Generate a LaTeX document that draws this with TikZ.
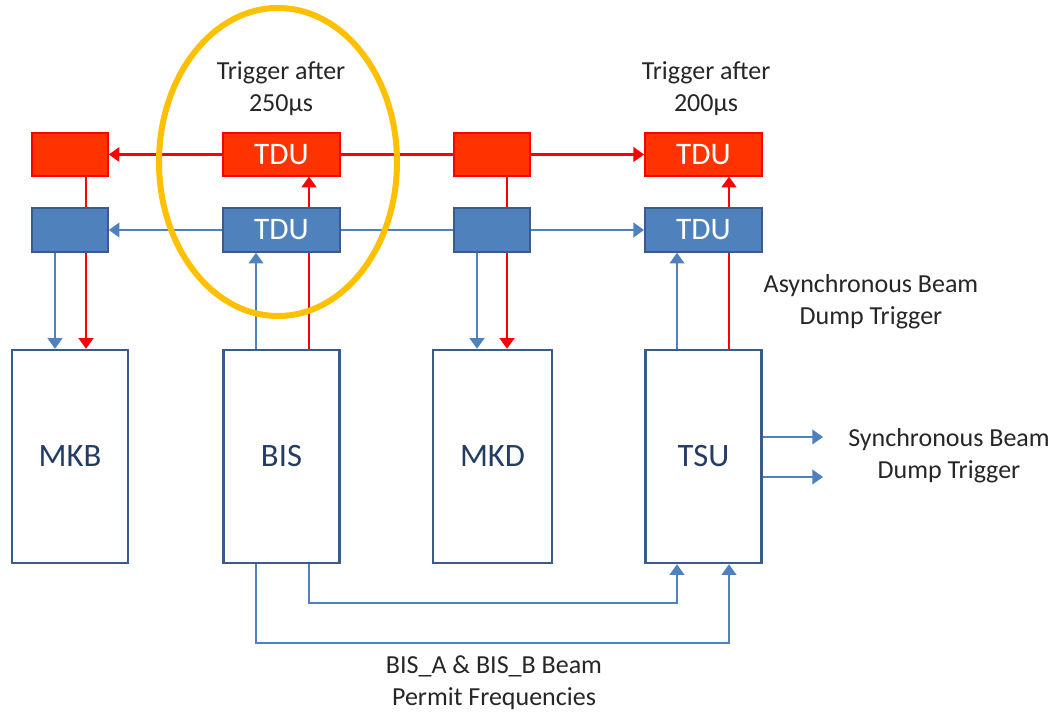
\documentclass[tikz,border=0pt]{standalone}
\usepackage{fontspec}
\setmainfont{Carlito}
\usetikzlibrary{arrows.meta,calc}
\definecolor{tdured}{RGB}{255,51,0}
\definecolor{linered}{RGB}{255,0,0}
\definecolor{tdublue}{RGB}{79,129,189}
\definecolor{edgeblue}{RGB}{56,93,138}
\definecolor{textblue}{RGB}{35,60,100}
\definecolor{ringgold}{RGB}{255,192,0}

\tikzset{
  redbox/.style={draw=linered,fill=tdured,line width=1.2pt,minimum height=32pt,text=white,font=\fontsize{23.5}{25}\selectfont},
  bluebox/.style={draw=edgeblue,fill=tdublue,line width=1.2pt,minimum height=33pt,text=white,font=\fontsize{23.5}{25}\selectfont},
  unitbox/.style={draw=edgeblue,line width=1.6pt,minimum width=87pt,minimum height=160pt,text=textblue,font=\fontsize{24.5}{26}\selectfont},
  redarr/.style={draw=linered,line width=1.6pt,-{Triangle[length=8pt,width=11pt]}},
  bluearr/.style={draw=tdublue,line width=1.6pt,-{Triangle[length=8pt,width=11pt]}},
  redln/.style={draw=linered,line width=1.6pt},
  blueln/.style={draw=tdublue,line width=1.6pt},
  lbl/.style={align=center,text=black!85,font=\fontsize{19.5}{24}\selectfont}
}

\begin{document}
\begin{tikzpicture}[x=0.75pt,y=-0.75pt]
\useasboundingbox (0,0) rectangle (1054,712);

% ===== UNITS =====
\node[unitbox] (mkb) at (70,456.5) {MKB};
\node[unitbox] (bis) at (281.5,456.5) {BIS};
\node[unitbox,minimum width=89pt] (mkd) at (492.5,456.5) {MKD};
\node[unitbox] (tsu) at (703.5,456.5) {TSU};

% ===== RED TDU ROW =====
\node[redbox,minimum width=57pt] (r1) at (70,154.5) {};
\node[redbox,minimum width=88pt] (r2) at (281.5,154.5) {TDU};
\node[redbox,minimum width=57pt] (r3) at (492,154.5) {};
\node[redbox,minimum width=88pt] (r4) at (703.5,154.5) {TDU};

% red verticals (run behind the blue row)
\draw[redarr] ($(r1.south)+(16,0)$) -- ($(mkb.north)+(16,0)$);
\draw[redarr] ($(r3.south)+(15,0)$) -- ($(mkd.north)+(14.5,0)$);
\draw[redarr] ($(bis.north)+(27.5,0)$) -- ($(r2.south)+(27.5,0)$);
\draw[redarr] ($(tsu.north)+(25.5,0)$) -- ($(r4.south)+(25.5,0)$);

% ===== BLUE TDU ROW =====
\node[bluebox,minimum width=57pt] (b1) at (70,230) {};
\node[bluebox,minimum width=88pt] (b2) at (281.5,230) {TDU};
\node[bluebox,minimum width=57pt] (b3) at (492,230) {};
\node[bluebox,minimum width=88pt] (b4) at (703.5,230) {TDU};

% horizontal chains
\draw[redarr] (r2) -- (r1);
\draw[redln] (r2) -- (r3);
\draw[redarr] (r3) -- (r4);
\draw[bluearr] (b2) -- (b1);
\draw[blueln] (b2) -- (b3);
\draw[bluearr] (b3) -- (b4);

% blue verticals
\draw[bluearr] ($(b1.south)+(-15,0)$) -- ($(mkb.north)+(-15,0)$);
\draw[bluearr] ($(b3.south)+(-15,0)$) -- ($(mkd.north)+(-15.5,0)$);
\draw[bluearr] ($(bis.north)+(-25.5,0)$) -- ($(b2.south)+(-25.5,0)$);
\draw[bluearr] ($(tsu.north)+(-26.5,0)$) -- ($(b4.south)+(-26.5,0)$);

% ===== BEAM PERMIT LOOPS =====
\draw[bluearr] ($(bis.south)+(27.5,0)$) |- (677,603) -- ($(tsu.south)+(-26.5,0)$);
\draw[bluearr] ($(bis.south)+(-25.5,0)$) |- (729,643) -- ($(tsu.south)+(25.5,0)$);

% ===== SYNCHRONOUS OUTPUTS =====
\coordinate (s1) at (823,437);
\coordinate (s2) at (823,477);
\draw[bluearr] (tsu.east |- s1) -- (s1);
\draw[bluearr] (tsu.east |- s2) -- (s2);

% ===== LABELS =====
\node[lbl] (t250) at (281,89) {Trigger after\\250µs};
\node[lbl] (t200) at (706,89) {Trigger after\\200µs};
\node[lbl] (async) at (871,302) {Asynchronous Beam\\Dump Trigger};
\node[lbl] (sync) at (949,456) {Synchronous Beam\\Dump Trigger};
\node[lbl] (permit) at (494,683) {BIS\_A \& BIS\_B Beam\\Permit Frequencies};

% highlight ring
\draw[ringgold,line width=4.5pt] (278,162) ellipse [x radius=119,y radius=154];

\end{tikzpicture}
\end{document}
